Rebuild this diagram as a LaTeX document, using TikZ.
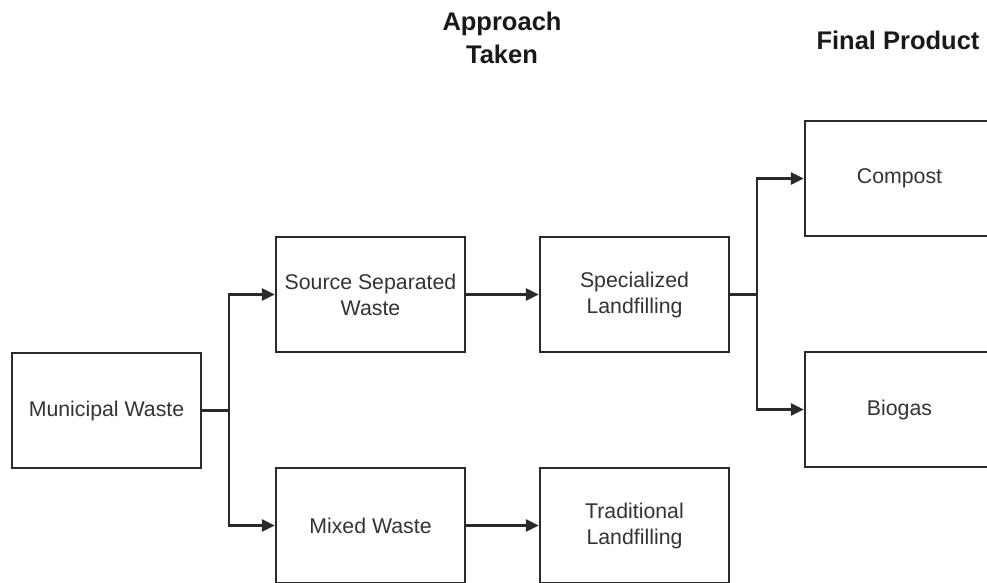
\documentclass[tikz,border=0pt]{standalone}
\usepackage{fontspec}
\setmainfont{Liberation Sans}
\usetikzlibrary{arrows.meta}
\definecolor{ink}{HTML}{2A2A2A}
\tikzset{
  box/.style={draw=ink, line width=2.3pt, minimum width=189pt, minimum height=115pt,
    inner sep=0pt, align=center, text=black!80, font=\fontsize{21.3}{26}\selectfont},
  head/.style={align=center, text=black!90, font=\bfseries\fontsize{25.5}{33}\selectfont},
  conn/.style={draw=ink, line width=2.3pt},
  arr/.style={conn, -{Triangle[length=13pt,width=12pt]}},
}
\begin{document}
\begin{tikzpicture}[x=1pt,y=-1pt]
\useasboundingbox (0,0) rectangle (987,582);
\fill[white] (0,0) rectangle (987,582);
\clip (0,0) rectangle (987,582);
\node[head] (h1) at (502,38) {Approach\\Taken};
\node[head] (h2) at (898,40) {Final Product};
\node[box] (mw) at (106.5,410.5) {Municipal Waste};
\node[box] (ssw) at (370.5,294.5) {Source Separated\\Waste};
\node[box] (mix) at (370.5,525.5) {Mixed Waste};
\node[box] (spl) at (634.5,294.5) {Specialized\\Landfilling};
\node[box] (trl) at (634.5,525.5) {Traditional\\Landfilling};
\node[box] (comp) at (899.5,178.5) {Compost};
\node[box] (bio) at (899.5,409.5) {Biogas};
\coordinate (j1) at (229,410.5);
\coordinate (j2) at (757,294.5);
\draw[conn] (mw.east) -- (j1);
\draw[arr] (j1) |- (ssw.west);
\draw[arr] (j1) |- (mix.west);
\draw[arr] (ssw.east) -- (spl.west);
\draw[arr] (mix.east) -- (trl.west);
\draw[conn] (spl.east) -- (j2);
\draw[arr] (j2) |- (comp.west);
\draw[arr] (j2) |- (bio.west);
\end{tikzpicture}
\end{document}
